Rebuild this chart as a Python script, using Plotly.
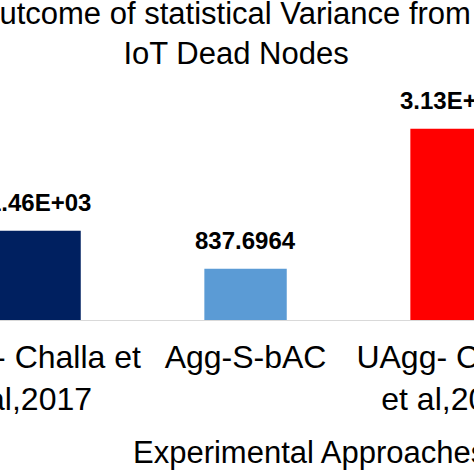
import plotly.graph_objects as go

# data
approaches = ["Agg- Challa et<br>al,2017", "Agg-S-bAC", "UAgg- Challa<br>et al,2017"]
variance = [1460, 837.6964, 3130]
value_labels = ["1.46E+03", "837.6964", "3.13E+03"]
bar_colors = ["#002060", "#5B9BD5", "#FF0000"]

FONT = "Arial, Liberation Sans, sans-serif"

fig = go.Figure()

fig.add_trace(go.Bar(
    x=approaches,
    y=variance,
    width=0.4,
    marker=dict(color=bar_colors, line=dict(width=0)),
    showlegend=False,
    hoverinfo="skip",
))

# value labels above each bar
for cat, val, lab in zip(approaches, variance, value_labels):
    fig.add_annotation(
        x=cat, y=val, text="<b>" + lab + "</b>",
        showarrow=False, yanchor="bottom", yshift=13,
        font=dict(family=FONT, size=24, color="black"),
    )

# axis title sits off-centre in the cropped view
fig.add_annotation(
    x=0.654, y=-0.6, xref="paper", yref="paper",
    text="Experimental Approaches", showarrow=False,
    xanchor="center", yanchor="middle",
    font=dict(family=FONT, size=31, color="black"),
)

fig.update_layout(
    width=474,
    height=474,
    margin=dict(l=0, r=0, t=100, b=154, autoexpand=False),
    paper_bgcolor="white",
    plot_bgcolor="white",
    title=dict(
        # trailing no-break spaces keep the wrapped first line left of centre, as in the original
        text="Outcome of statistical Variance from\u00a0\u00a0\u00a0<br>IoT Dead Nodes",
        x=0.498, xanchor="center",
        y=0.949, yref="container", yanchor="top",
        automargin=False,
        font=dict(family=FONT, size=31, color="black"),
    ),
    xaxis=dict(
        type="category",
        range=[-0.192, 2.109],
        automargin=False,
        showgrid=False,
        showline=True,
        linecolor="#D9D9D9",
        linewidth=1,
        ticks="",
        tickangle=0,
        ticklabelstandoff=9,
        ticklabeloverflow="allow",
        tickfont=dict(family=FONT, size=32, color="black"),
    ),
    yaxis=dict(
        range=[0, 3600],
        visible=False,
        automargin=False,
    ),
)

# drop the default page margin so the figure starts at the window corner
fig.write_html(
    "out.html",
    config={"displayModeBar": False, "staticPlot": True},
    post_script="document.body.style.margin='0';",
)
